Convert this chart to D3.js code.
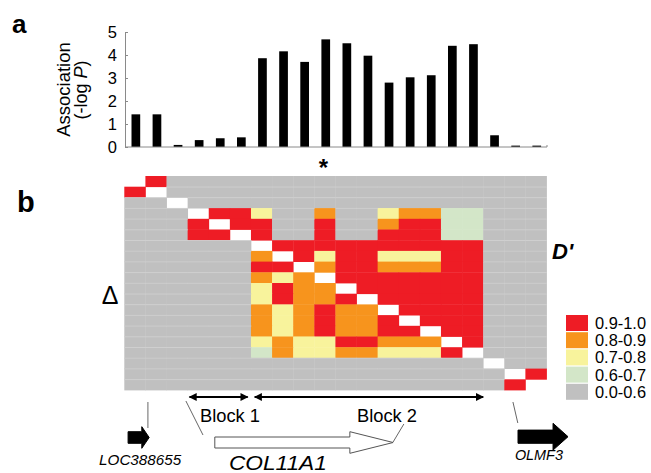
<!DOCTYPE html>
<html><head><meta charset="utf-8">
<script src="https://cdn.jsdelivr.net/npm/d3@7"></script>
<style>
body{margin:0;background:#fff}
svg{display:block}
text{font-family:"Liberation Sans", Arial, sans-serif}
</style>
</head><body>
<svg id="c" width="651" height="473"></svg>
<script>
// ---------- data ----------
const snps = d3.range(1, 21);
const association = [1.42,1.42,0.09,0.30,0.38,0.42,3.86,4.16,3.70,4.68,4.51,3.97,2.80,3.03,3.12,4.40,4.47,0.51,0.06,0.06];
const yTicks = [0,1,2,3,4,5];
const starSnp = 10;
const ldBins = ["0.9-1.0","0.8-0.9","0.7-0.8","0.6-0.7","0.0-0.6"];
const ldColors = ["#EE1C25","#F7941D","#F8F39C","#D3E6C8","#C0C0C0"];
// LD class per pair: index into ldBins, "-" = diagonal. Upper = D', lower = delta
const ldRows = [
  "-0444444444444444444",
  "0-444444444444444444",
  "44-44444444444444444",
  "444-0024414421133444",
  "4440-004404410033444",
  "44400-04404400033444",
  "444444-0000000000444",
  "4444441-020022200444",
  "44444400-10011100444",
  "444444121-0000000444",
  "4444442011-000000444",
  "44444420110-00000444",
  "444444121011-0000444",
  "4444441210110-000444",
  "44444412101100-00444",
  "444444212200111-0444",
  "4444443122112220-444",
  "44444444444444444-44",
  "444444444444444444-0",
  "4444444444444444440-"
];
const blocks = [
  {name:"Block 1", from:3.08, to:5.84, labelAt:3.58},
  {name:"Block 2", from:6.17, to:17.0, labelAt:11.02}
];
const genes = [
  {name:"LOC388655", start:0.17, head:0.82, end:1.17, fill:"#000", labelAt:0.74},
  {name:"COL11A1", start:4.28, head:10.68, end:12.73, fill:"#fff", labelAt:7.27},
  {name:"OLMF3", start:18.65, head:20.31, end:21.02, fill:"#000", labelAt:19.64}
];
const connectors = [
  {top:1.11, bottom:1.11, y1:402, y2:428},
  {top:2.91, bottom:3.72, y1:401, y2:435},
  {top:13.24, bottom:12.73, y1:424, y2:442},
  {top:18.41, bottom:18.64, y1:402, y2:423}
];

// ---------- drawing ----------
const svg = d3.select("#c");
const AX = "#8a8a8a";
const x = d3.scaleBand().domain(snps).range([124.5, 546.5]);
const xu = d3.scaleLinear().domain([0, 20]).range([124.5, 546.5]);
const y = d3.scaleLinear().domain([0, 5]).range([147, 32]);

// panel labels
svg.append("text").attr("x", 12).attr("y", 33).attr("font-size", 26).attr("font-weight", "bold").text("a");
svg.append("text").attr("x", 17).attr("y", 212).attr("font-size", 29).attr("font-weight", "bold").text("b");

// bars
const bw = 8.7;
svg.append("g").selectAll("rect").data(association).join("rect")
  .attr("x", (d, i) => x(snps[i]) + x.bandwidth() / 2 - bw / 2 + 0.8)
  .attr("width", bw)
  .attr("y", d => y(d))
  .attr("height", d => y(0) - y(d))
  .attr("fill", "#000");

// y axis
const yAxis = d3.axisLeft(y).tickValues(yTicks).tickFormat(d3.format("d"))
  .tickSizeInner(-3).tickSizeOuter(0).tickPadding(8);
const gy = svg.append("g").attr("transform", "translate(125,0)").call(yAxis);
gy.select(".domain").attr("stroke", AX);
gy.selectAll(".tick line").attr("stroke", AX);
gy.selectAll(".tick text").attr("font-size", 16.5).attr("fill", "#000")
  .attr("font-family", '"Liberation Sans", Arial, sans-serif');
// x axis baseline
svg.append("line").attr("x1", 125).attr("x2", 547).attr("y1", y(0)).attr("y2", y(0)).attr("stroke", AX);
svg.append("line").attr("x1", 547).attr("x2", 547).attr("y1", y(0)).attr("y2", y(0) - 2).attr("stroke", AX);

// y label
svg.append("text").attr("transform", "translate(70,89.5) rotate(-90)")
  .attr("text-anchor", "middle").attr("font-size", 18.5).text("Association");
const yl2 = svg.append("text").attr("transform", "translate(87,90) rotate(-90)")
  .attr("text-anchor", "middle").attr("font-size", 18);
yl2.append("tspan").text("(-log ");
yl2.append("tspan").attr("font-style", "italic").text("P");
yl2.append("tspan").text(")");

// star
svg.append("text").attr("x", x(starSnp) + x.bandwidth() / 2 - 1.5).attr("y", 176)
  .attr("text-anchor", "middle").attr("font-size", 24).attr("font-weight", "bold").text("*");

// LD matrix
const xm = d3.scaleBand().domain(d3.range(20)).range([124.3, 546.5]);
const ym = d3.scaleBand().domain(d3.range(20)).range([176, 390]);
const cells = [];
ldRows.forEach((row, i) => row.split("").forEach((c, j) => { if (c !== "-") cells.push({i, j, b: +c}); }));
const gm = svg.append("g");
gm.selectAll("rect").data(cells).join("rect")
  .attr("x", d => xm(d.j)).attr("y", d => ym(d.i))
  .attr("width", xm.bandwidth() + 0.4).attr("height", ym.bandwidth() + 0.4)
  .attr("fill", d => ldColors[d.b]);
gm.selectAll("line").data(cells.filter(d => d.b === 4 && d.i > 0)).join("line")
  .attr("x1", d => xm(d.j)).attr("x2", d => xm(d.j) + xm.bandwidth() + 0.4)
  .attr("y1", d => ym(d.i) + 0.3).attr("y2", d => ym(d.i) + 0.3)
  .attr("stroke", "#d2d2d2").attr("stroke-width", 0.7);

// labels delta and D'
svg.append("text").attr("x", 110).attr("y", 304).attr("text-anchor", "middle").attr("font-size", 25).text("Δ");
svg.append("text").attr("x", 552).attr("y", 259).attr("font-size", 22).attr("font-weight", "bold").attr("font-style", "italic").text("D'");

// legend
const lg = svg.append("g");
ldBins.forEach((lab, k) => {
  const yy = 315 + k * 17.2;
  lg.append("rect").attr("x", 566).attr("y", yy).attr("width", 22).attr("height", 16).attr("fill", ldColors[k]);
  lg.append("text").attr("x", 595).attr("y", yy + 14).attr("font-size", 16.5)
    .attr("textLength", 51).attr("lengthAdjust", "spacingAndGlyphs").text(lab);
});

// block arrows
const defs = svg.append("defs");
["s", "e"].forEach(k => {
  defs.append("marker").attr("id", "ah" + k).attr("markerUnits", "userSpaceOnUse")
    .attr("viewBox", "0 0 10 10").attr("refX", k === "e" ? 9 : 1).attr("refY", 5)
    .attr("markerWidth", 10).attr("markerHeight", 8).attr("orient", "auto")
    .append("path").attr("d", k === "e" ? "M0,0L10,5L0,10Z" : "M10,0L0,5L10,10Z").attr("fill", "#000");
});
blocks.forEach(b => {
  svg.append("line").attr("x1", xu(b.from)).attr("x2", xu(b.to)).attr("y1", 397).attr("y2", 397)
    .attr("stroke", "#000").attr("stroke-width", 2)
    .attr("marker-start", "url(#ahs)").attr("marker-end", "url(#ahe)");
  svg.append("text").attr("x", xu(b.labelAt)).attr("y", 422).attr("font-size", 18.5)
    .attr("textLength", 60).attr("lengthAdjust", "spacingAndGlyphs").text(b.name);
});

// connectors
connectors.forEach(c => {
  svg.append("line").attr("x1", xu(c.top)).attr("x2", xu(c.bottom)).attr("y1", c.y1).attr("y2", c.y2)
    .attr("stroke", "#555").attr("stroke-width", 0.9);
});

// gene arrows
const geneGeom = {
  "LOC388655": {cy:437.5, bh:5.8, hh:10.8, ly:465, fs:14.5, tl:82},
  "COL11A1": {cy:442.5, bh:5.5, hh:10.8, ly:470, fs:20, tl:98},
  "OLMF3": {cy:436.7, bh:6.6, hh:13.4, ly:460, fs:14.5, tl:48}
};
genes.forEach(g => {
  const G = geneGeom[g.name];
  const x0 = xu(g.start), x1 = xu(g.head), x2 = xu(g.end);
  const p = d3.path();
  p.moveTo(x0, G.cy - G.bh); p.lineTo(x1, G.cy - G.bh); p.lineTo(x1, G.cy - G.hh);
  p.lineTo(x2, G.cy); p.lineTo(x1, G.cy + G.hh); p.lineTo(x1, G.cy + G.bh);
  p.lineTo(x0, G.cy + G.bh); p.closePath();
  svg.append("path").attr("d", p.toString()).attr("fill", g.fill)
    .attr("stroke", g.fill === "#fff" ? "#555" : "#000").attr("stroke-width", 1);
  svg.append("text").attr("x", xu(g.labelAt)).attr("y", G.ly).attr("text-anchor", "middle")
    .attr("font-size", G.fs).attr("font-style", "italic")
    .attr("textLength", G.tl).attr("lengthAdjust", "spacingAndGlyphs").text(g.name);
});
</script>
</body></html>
